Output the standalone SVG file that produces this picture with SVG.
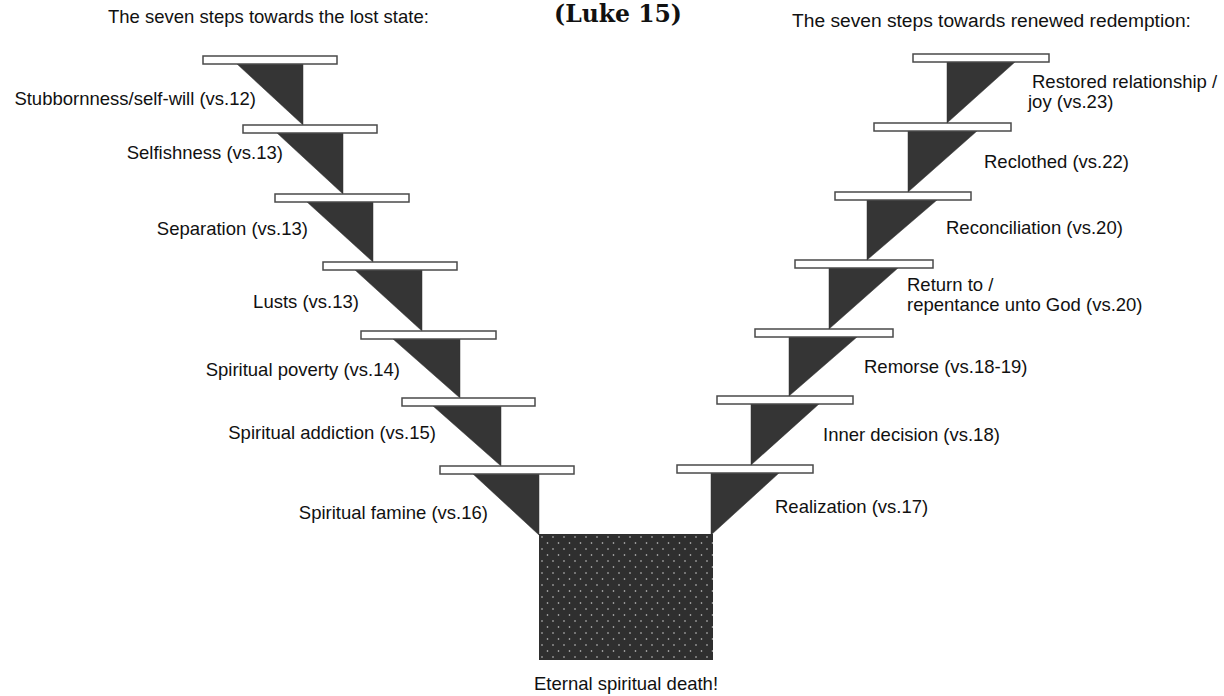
<svg xmlns="http://www.w3.org/2000/svg" width="1224" height="696" viewBox="0 0 1224 696">
<style>
.bar{fill:#fff;stroke:#4a4a4a;stroke-width:1.5}
.tri{fill:#353535;stroke:#353535;stroke-width:0.5}
.lbl{font-family:"Liberation Sans",Arial,sans-serif;font-size:18.5px;fill:#111}
.l{text-anchor:end}
.hd{font-family:"Liberation Sans",Arial,sans-serif;font-size:18.5px;fill:#111}
.title{font-family:"DejaVu Serif",serif;font-weight:bold;font-size:23.5px;fill:#111;text-anchor:middle}
</style>
<defs>
<pattern id="dots" width="11" height="12" patternUnits="userSpaceOnUse" x="539" y="534">
<rect width="11" height="12" fill="#2f2f2f"/>
<circle cx="3" cy="3" r="0.8" fill="#cfcfcf"/>
<circle cx="8.5" cy="9" r="0.8" fill="#cfcfcf"/>
</pattern>
</defs>
<rect width="1224" height="696" fill="#fff"/>

<g id="headers">
<text class="hd" x="108" y="23">The seven steps towards the lost state:</text>
<text class="title" x="618" y="22">(Luke 15)</text>
<text class="hd" x="792" y="27" style="font-size:19.2px">The seven steps towards renewed redemption:</text>
</g>

<g id="left-step-1">
<polygon class="tri" points="237,64 303,64 303,125"/>
<rect class="bar" x="203" y="56" width="134" height="8"/>
<text class="lbl l" x="256" y="105">Stubbornness/self-will (vs.12)</text>
</g>
<g id="left-step-2">
<polygon class="tri" points="277,133 343,133 343,194"/>
<rect class="bar" x="243" y="125" width="134" height="8"/>
<text class="lbl l" x="283" y="159">Selfishness (vs.13)</text>
</g>
<g id="left-step-3">
<polygon class="tri" points="307,202 373,202 373,262"/>
<rect class="bar" x="275" y="194" width="134" height="8"/>
<text class="lbl l" x="308" y="235">Separation (vs.13)</text>
</g>
<g id="left-step-4">
<polygon class="tri" points="355,270 422,270 422,331"/>
<rect class="bar" x="323" y="262" width="134" height="8"/>
<text class="lbl l" x="359" y="308">Lusts (vs.13)</text>
</g>
<g id="left-step-5">
<polygon class="tri" points="393,339 460,339 460,398"/>
<rect class="bar" x="361" y="331" width="135" height="8"/>
<text class="lbl l" x="400" y="376">Spiritual poverty (vs.14)</text>
</g>
<g id="left-step-6">
<polygon class="tri" points="433,406 501,406 501,466"/>
<rect class="bar" x="402" y="398" width="133" height="8"/>
<text class="lbl l" x="436" y="439">Spiritual addiction (vs.15)</text>
</g>
<g id="left-step-7">
<polygon class="tri" points="473,474 539,474 539,535"/>
<rect class="bar" x="440" y="466" width="134" height="8"/>
<text class="lbl l" x="488" y="519">Spiritual famine (vs.16)</text>
</g>

<g id="right-step-1">
<polygon class="tri" points="711,473 779,473 711,535"/>
<rect class="bar" x="677" y="465" width="136" height="8"/>
<text class="lbl" x="775" y="513">Realization (vs.17)</text>
</g>
<g id="right-step-2">
<polygon class="tri" points="751,404 819,404 751,465"/>
<rect class="bar" x="717" y="396" width="136" height="8"/>
<text class="lbl" x="823" y="441">Inner decision (vs.18)</text>
</g>
<g id="right-step-3">
<polygon class="tri" points="789,337 857,337 789,396"/>
<rect class="bar" x="755" y="329" width="138" height="8"/>
<text class="lbl" x="864" y="373">Remorse (vs.18-19)</text>
</g>
<g id="right-step-4">
<polygon class="tri" points="829,268 898,268 829,329"/>
<rect class="bar" x="795" y="260" width="138" height="8"/>
<text class="lbl" x="907" y="291">Return to /</text>
<text class="lbl" x="907" y="311">repentance unto God (vs.20)</text>
</g>
<g id="right-step-5">
<polygon class="tri" points="867,200 937,200 867,260"/>
<rect class="bar" x="835" y="192" width="136" height="8"/>
<text class="lbl" x="946" y="234">Reconciliation (vs.20)</text>
</g>
<g id="right-step-6">
<polygon class="tri" points="908,131 977,131 908,192"/>
<rect class="bar" x="874" y="123" width="137" height="8"/>
<text class="lbl" x="984" y="168">Reclothed (vs.22)</text>
</g>
<g id="right-step-7">
<polygon class="tri" points="947,62 1015,62 947,123"/>
<rect class="bar" x="913" y="54" width="136" height="8"/>
<text class="lbl" x="1032" y="88">Restored relationship /</text>
<text class="lbl" x="1028" y="108">joy (vs.23)</text>
</g>

<g id="death">
<rect x="539" y="534" width="174" height="126" fill="url(#dots)"/>
<text class="lbl" x="626" y="690" style="text-anchor:middle">Eternal spiritual death!</text>
</g>
<g id="connectors"></g>
</svg>
